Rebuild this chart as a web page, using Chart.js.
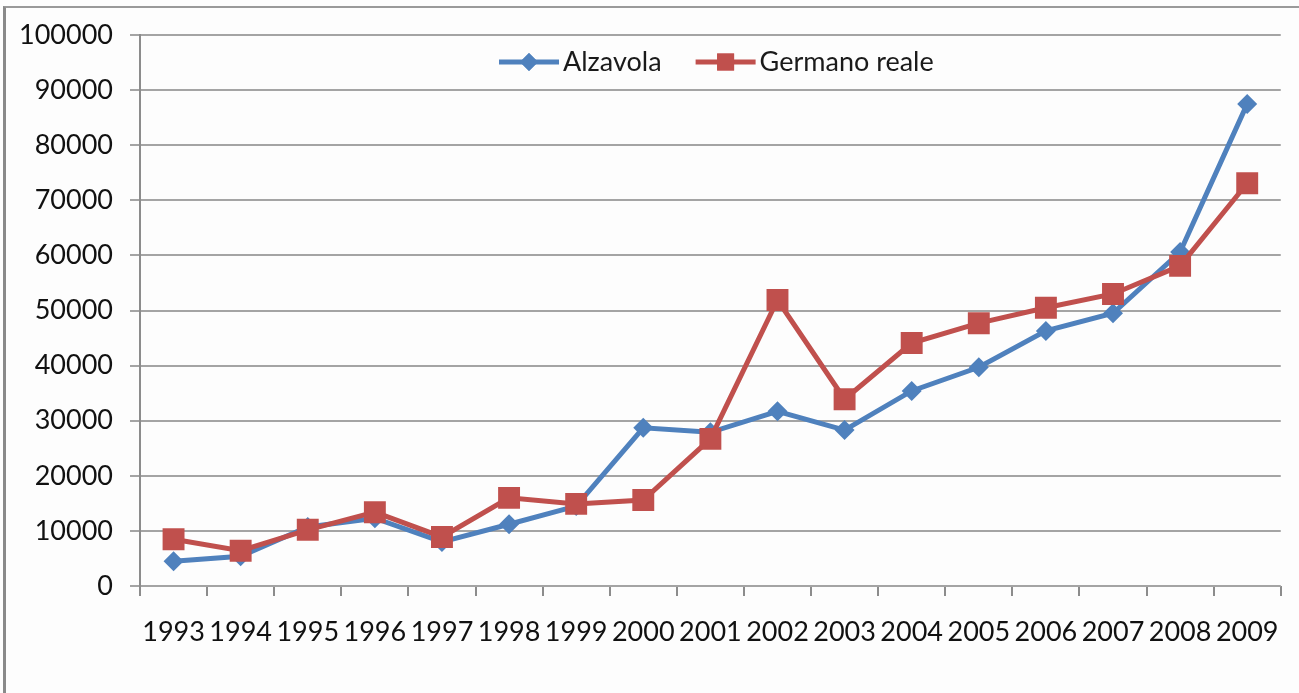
<!DOCTYPE html>
<html>
<head>
<meta charset="utf-8">
<script src="https://cdn.jsdelivr.net/npm/chart.js"></script>
<style>
  html, body { margin: 0; padding: 0; background: #fdfdfd; }
  #frame {
    position: absolute; left: 3px; top: 6px; width: 1296px; height: 687px;
    border-left: 3px solid #8a8a8a; border-top: 2px solid #9a9a9a;
  }
  #wrap { position: absolute; left: 0; top: 0; width: 1299px; height: 693px; }
</style>
</head>
<body>
<div id="frame"></div>
<div id="wrap"><canvas id="chart" width="1299" height="693"></canvas></div>
<script>
// data
let years = ["1993", "1994", "1995", "1996", "1997", "1998", "1999", "2000", "2001",
             "2002", "2003", "2004", "2005", "2006", "2007", "2008", "2009"];
let alzavola = [4500, 5400, 10700, 12300, 8000, 11200, 14500, 28700, 27900,
                31700, 28300, 35400, 39700, 46300, 49500, 60600, 87500];
let germano = [8500, 6400, 10200, 13400, 8900, 16000, 14900, 15600, 26700,
               51900, 33900, 44100, 47700, 50500, 53000, 58100, 73100];
let yMax = 100000;
let yStep = 10000;

const FONT = "Lato, 'Open Sans', sans-serif";
const FSIZE = 27;
const BLUE = "#4F81BD";
const RED = "#C0504D";

// legend drawn inside the plot, like the Excel original
const insideLegend = {
  id: "insideLegend",
  afterDraw(chart) {
    let ctx = chart.ctx;
    ctx.save();
    ctx.font = FSIZE + "px " + FONT;
    let items = chart.data.datasets.map(ds => ({ ds: ds, w: 64 + ctx.measureText(ds.label).width }));
    let gap = 34;
    let total = items.reduce((s, it) => s + it.w, 0) + gap;
    let x = (chart.chartArea.left + chart.chartArea.right) / 2 + 6 - total / 2;
    let y = 62;
    items.forEach(it => {
      ctx.strokeStyle = it.ds.borderColor;
      ctx.lineWidth = 5;
      ctx.beginPath();
      ctx.moveTo(x, y);
      ctx.lineTo(x + 60, y);
      ctx.stroke();
      ctx.fillStyle = it.ds.borderColor;
      Chart.helpers.drawPoint(ctx, {
        pointStyle: it.ds.pointStyle,
        radius: it.ds.pointStyle === "rect" ? 12 : 9,
        borderWidth: 0
      }, x + 30, y);
      ctx.fill();
      ctx.fillStyle = "#1a1a1a";
      ctx.textBaseline = "middle";
      ctx.textAlign = "left";
      ctx.fillText(it.ds.label, x + 64, y);
      x += it.w + gap;
    });
    ctx.restore();
  }
};

new Chart(document.getElementById("chart"), {
  type: "line",
  data: {
    labels: years,
    datasets: [
      {
        label: "Alzavola", data: alzavola, order: 1,
        borderColor: BLUE, backgroundColor: BLUE, borderWidth: 5,
        pointStyle: "rectRot", pointRadius: 10, pointBorderWidth: 0,
        tension: 0
      },
      {
        label: "Germano reale", data: germano, order: 0,
        borderColor: RED, backgroundColor: RED, borderWidth: 5,
        pointStyle: "rect", pointRadius: 15.5, pointBorderWidth: 0,
        tension: 0
      }
    ]
  },
  options: {
    responsive: false,
    animation: false,
    layout: { padding: { top: 35, right: 16, left: 0, bottom: 0 } },
    plugins: { legend: { display: false }, tooltip: { enabled: false } },
    scales: {
      x: {
        offset: true,
        grid: { offset: true, drawOnChartArea: false, color: "#8c8c8c", lineWidth: 2, tickLength: 10 },
        border: { display: false },
        ticks: { color: "#111", font: { family: FONT, size: FSIZE }, padding: 20, maxRotation: 0, autoSkip: false },
        afterFit(s) { s.height = 107; }
      },
      y: {
        min: 0, max: yMax,
        ticks: {
          stepSize: yStep, color: "#111", font: { family: FONT, size: FSIZE }, padding: 17,
          callback: v => String(v)
        },
        grid: { color: "#a4a4a4", lineWidth: 2, tickLength: 10 },
        border: { display: true, color: "#8c8c8c", width: 2 },
        afterFit(s) { s.width = 140; }
      }
    }
  },
  plugins: [insideLegend]
});
</script>
</body>
</html>
